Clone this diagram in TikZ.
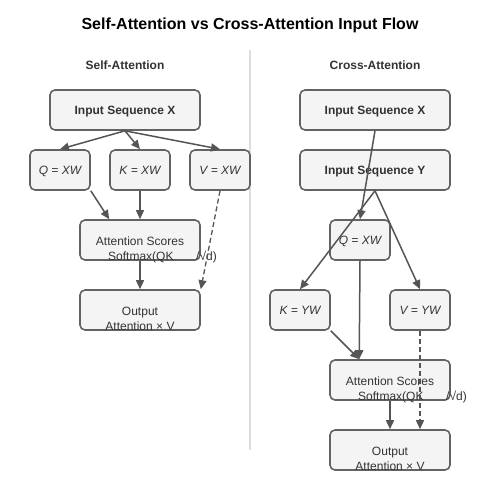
\documentclass[tikz,border=0pt]{standalone}
\usepackage{fontspec}
\setmainfont{Liberation Sans}
\usetikzlibrary{arrows.meta,calc}
\definecolor{boxfill}{HTML}{F4F4F4}
\definecolor{boxline}{HTML}{636363}
\definecolor{arrowc}{HTML}{555555}
\definecolor{txt}{HTML}{333333}
\definecolor{divc}{HTML}{DDDDDD}
\begin{document}
\begin{tikzpicture}[x=1pt,y=-1pt,
  box/.style={draw=boxline,fill=boxfill,line width=1.6pt,rounded corners=5pt,inner sep=0pt,text=txt},
  wide/.style={box,minimum width=150pt,minimum height=40pt,text height=9pt,text depth=0pt,font=\bfseries\fontsize{12}{14}\selectfont},
  small/.style={box,minimum width=60pt,minimum height=40pt,text height=9pt,text depth=0pt,font=\itshape\fontsize{12}{14}\selectfont},
  mid/.style={box,minimum width=120pt,minimum height=40pt},
  lbl/.style={anchor=base,inner sep=0pt,text=txt,font=\fontsize{12}{14}\selectfont},
  lblw/.style={anchor=base west,inner sep=0pt,text=txt,font=\fontsize{12}{14}\selectfont},
  arr/.style={draw=arrowc,line width=1.5pt,-{Triangle[length=9pt,width=8pt]}},
  darr/.style={arr,line width=1.3pt,dash pattern=on 5pt off 3pt}]
\useasboundingbox (0,0) rectangle (500,500);
\fill[white] (0,0) rectangle (500,500);
% title
\node[anchor=base,inner sep=0pt,text=black,font=\bfseries\fontsize{16}{18}\selectfont] (title) at (250,30) {Self-Attention vs Cross-Attention Input Flow};
\draw[divc,line width=2pt] (250,50) coordinate (d1) -- (250,450) coordinate (d2);
\node[anchor=base,inner sep=0pt,text=txt,font=\bfseries\fontsize{12}{14}\selectfont] (st1) at (125,70) {Self-Attention};
\node[anchor=base,inner sep=0pt,text=txt,font=\bfseries\fontsize{12}{14}\selectfont] (st2) at (375,70) {Cross-Attention};
% ---- left: self-attention
\node[wide] (lx) at (125,110) {Input Sequence X};
\node[small] (lq) at (60,170) {Q = XW};
\node[small] (lk) at (140,170) {K = XW};
\node[small] (lv) at (220,170) {V = XW};
\node[mid] (la) at (140,240) {};
\node[lbl] (la1) at (140,245) {Attention Scores};
\node[lblw] (la2) at (108,260) {Softmax(QK};
\node[lblw] (la3) at (196,260) {/√d)};
\node[mid] (lo) at (140,310) {};
\node[lbl] (lo1) at (140,315) {Output};
\node[lbl] (lo2) at (140,330) {Attention × V};
\draw[arr] (lx.south) -- (lq.north);
\draw[arr] (lx.south) -- (lk.north);
\draw[arr] (lx.south) -- (lv.north);
\draw[arr] (lq.south east) -- ($(la.north west)+(30,0)$);
\draw[arr] (lk.south) -- (la.north);
\draw[darr] (lv.south) -- (lo.north east);
\draw[arr] (la.south) -- (lo.north);
% ---- right: cross-attention
\node[wide] (rx) at (375,110) {Input Sequence X};
\node[wide] (ry) at (375,170) {Input Sequence Y};
\node[small] (rq) at (360,240) {Q = XW};
\node[small] (rk) at (300,310) {K = YW};
\node[small] (rv) at (420,310) {V = YW};
\node[mid] (ra) at (390,380) {};
\node[lbl] (ra1) at (390,385) {Attention Scores};
\node[lblw] (ra2) at (358,400) {Softmax(QK};
\node[lblw] (ra3) at (446,400) {/√d)};
\node[mid] (ro) at (390,450) {};
\node[lbl] (ro1) at (390,455) {Output};
\node[lbl] (ro2) at (390,470) {Attention × V};
\draw[arr] (rx.south) -- (rq.north);
\draw[arr] (ry.south) -- (rk.north);
\draw[arr] (ry.south) -- (rv.north);
\draw[arr] (rq.south) -- ($(ra.north west)+(30,0)$);
\draw[arr] (rk.south east) -- ($(ra.north west)+(30,0)$);
\draw[darr] (rv.south) -- (ro.north -| rv.south);
\draw[arr] (ra.south) -- (ro.north);
\end{tikzpicture}
\end{document}
